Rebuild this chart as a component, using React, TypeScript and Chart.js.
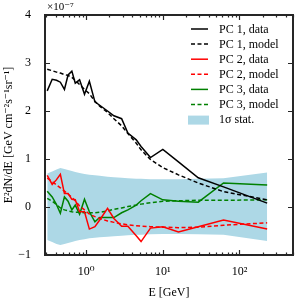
import React, { useEffect, useRef } from "react";
import { Chart, registerables } from "chart.js";

Chart.register(...registerables);

// Energies in GeV
const energy = [0.31, 0.36, 0.41, 0.46, 0.52, 0.58, 0.65, 0.72, 0.82, 0.95, 1.1, 1.3, 1.5, 1.9, 2.3, 2.9, 3.5, 4.5, 5.2, 6.9, 10, 16, 29, 62, 230];

// Values in units of 1e-7 GeV cm^-2 s^-1 sr^-1
const pc1Data = [2.42, 2.66, 2.64, 2.6, 2.45, 2.75, 2.83, 2.58, 2.65, 2.35, 2.62, 2.19, 2.12, 2.0, 1.9, 1.84, 1.54, 1.4, 1.26, 1.03, 1.2, 0.94, 0.61, 0.42, 0.08];
const pc1Model = [2.87, 2.84, 2.81, 2.79, 2.76, 2.74, 2.7, 2.64, 2.55, 2.45, 2.36, 2.2, 2.1, 1.97, 1.84, 1.69, 1.53, 1.33, 1.19, 0.99, 0.82, 0.67, 0.5, 0.32, 0.15];
const pc2Data = [0.66, 0.47, 0.57, 0.68, 0.28, 0.28, 0.16, 0.15, -0.1, -0.1, -0.46, -0.41, -0.27, -0.03, -0.24, -0.4, -0.4, -0.6, -0.72, -0.44, -0.41, -0.52, -0.41, -0.27, -0.46];
const pc2Model = [0.6, 0.53, 0.46, 0.4, 0.33, 0.27, 0.2, 0.13, 0.02, -0.06, -0.15, -0.2, -0.24, -0.29, -0.32, -0.35, -0.37, -0.39, -0.4, -0.41, -0.42, -0.43, -0.42, -0.38, -0.33];
const pc3Data = [0.33, 0.21, 0.05, -0.13, 0.21, 0.12, -0.06, 0.04, -0.15, 0.16, -0.1, -0.31, -0.22, -0.22, -0.22, -0.12, -0.06, 0.04, 0.13, 0.28, 0.15, 0.12, 0.1, 0.5, 0.46];
const pc3Model = [0.18, 0.12, 0.05, -0.02, -0.06, -0.08, -0.1, -0.11, -0.11, -0.12, -0.12, -0.12, -0.11, -0.08, -0.05, -0.02, 0.01, 0.04, 0.06, 0.09, 0.12, 0.13, 0.14, 0.14, 0.15];
const bandUpper = [0.7, 0.74, 0.78, 0.81, 0.79, 0.77, 0.75, 0.73, 0.71, 0.69, 0.67, 0.66, 0.65, 0.63, 0.62, 0.61, 0.6, 0.59, 0.59, 0.58, 0.58, 0.58, 0.59, 0.6, 0.72];
const bandLower = [-0.69, -0.73, -0.77, -0.79, -0.77, -0.75, -0.73, -0.71, -0.69, -0.67, -0.65, -0.64, -0.63, -0.62, -0.61, -0.6, -0.59, -0.58, -0.58, -0.57, -0.56, -0.56, -0.57, -0.58, -0.71];

const yTicks = [-1, 0, 1, 2, 3, 4];
const xMajor = [1, 10, 100];
const supers: Record<string, string> = { "-": "⁻", "0": "⁰", "1": "¹", "2": "²", "3": "³" };

const FONT = "'Liberation Serif', 'DejaVu Serif', serif";

const pts = (vals: number[]) => vals.map((v, i) => ({ x: energy[i], y: v }));

const framePlugin = {
  id: "frame",
  afterDraw(chart: any) {
    const { ctx, chartArea: a, scales } = chart;
    const xs = scales.x;
    const ys = scales.y;
    ctx.save();
    ctx.strokeStyle = "#262626";
    ctx.lineWidth = 1.2;
    // y major ticks (inward, both sides)
    yTicks.forEach((v) => {
      const py = Math.round(ys.getPixelForValue(v)) + 0.5;
      ctx.beginPath();
      ctx.moveTo(a.left, py); ctx.lineTo(a.left + 5, py);
      ctx.moveTo(a.right, py); ctx.lineTo(a.right - 5, py);
      ctx.stroke();
    });
    // x ticks (major + minor), inward, top and bottom
    for (let e = -1; e <= 2; e++) {
      for (let m = 1; m <= 9; m++) {
        const v = m * Math.pow(10, e);
        if (v < xs.min || v > xs.max) continue;
        const px = Math.round(xs.getPixelForValue(v)) + 0.5;
        const len = m === 1 ? 5 : 2.5;
        ctx.beginPath();
        ctx.moveTo(px, a.bottom); ctx.lineTo(px, a.bottom - len);
        ctx.moveTo(px, a.top); ctx.lineTo(px, a.top + len);
        ctx.stroke();
      }
    }
    // frame
    ctx.lineWidth = 2;
    ctx.strokeRect(a.left, a.top, a.right - a.left, a.bottom - a.top);

    // offset label
    ctx.fillStyle = "#000";
    ctx.font = `11px ${FONT}`;
    ctx.textBaseline = "alphabetic";
    ctx.textAlign = "left";
    ctx.fillText("×10⁻⁷", a.left + 2, 10);

    // legend
    const entries = chart.data.datasets.slice(0, 6);
    const hx0 = 191, hx1 = 208, tx = 219;
    let y = 29;
    ctx.font = `12px ${FONT}`;
    ctx.textBaseline = "middle";
    entries.forEach((ds: any) => {
      ctx.save();
      ctx.strokeStyle = ds.borderColor;
      ctx.lineWidth = ds.borderWidth;
      ctx.setLineDash(ds.borderDash || []);
      ctx.beginPath();
      ctx.moveTo(hx0, y); ctx.lineTo(hx1, y);
      ctx.stroke();
      ctx.restore();
      ctx.fillStyle = "#000";
      ctx.fillText(ds.label, tx, y + 0.5);
      y += 15.1;
    });
    const band = chart.data.datasets[6];
    ctx.fillStyle = band.backgroundColor;
    ctx.fillRect(hx0 - 3, y - 4, hx1 - hx0 + 4, 9);
    ctx.fillStyle = "#000";
    ctx.fillText(band.label, tx, y + 0.5);
    ctx.restore();
  },
};

export default function App() {
  const ref = useRef<HTMLCanvasElement | null>(null);
  useEffect(() => {
    if (!ref.current) return;
    const line = (label: string, vals: number[], color: string, dashed: boolean) => ({
      label,
      data: pts(vals),
      borderColor: color,
      backgroundColor: color,
      borderWidth: 1.5,
      borderDash: dashed ? [4, 2.5] : [],
      pointRadius: 0,
      fill: false,
      tension: 0,
    });
    const chart = new Chart(ref.current, {
      type: "line",
      data: {
        datasets: [
          line("PC 1, data", pc1Data, "#000000", false),
          line("PC 1, model", pc1Model, "#000000", true),
          line("PC 2, data", pc2Data, "#ff0000", false),
          line("PC 2, model", pc2Model, "#ff0000", true),
          line("PC 3, data", pc3Data, "#008000", false),
          line("PC 3, model", pc3Model, "#008000", true),
          {
            label: "1σ stat.",
            data: pts(bandUpper),
            borderWidth: 0,
            borderColor: "rgba(0,0,0,0)",
            backgroundColor: "#add8e6",
            pointRadius: 0,
            fill: "+1",
            tension: 0,
          },
          {
            label: "band lower",
            data: pts(bandLower),
            borderWidth: 0,
            borderColor: "rgba(0,0,0,0)",
            backgroundColor: "#add8e6",
            pointRadius: 0,
            fill: false,
            tension: 0,
          },
        ],
      },
      options: {
        animation: false,
        responsive: false,
        layout: { padding: { left: 0, top: 15, right: 7, bottom: 0 } },
        plugins: { legend: { display: false }, tooltip: { enabled: false } },
        scales: {
          x: {
            type: "logarithmic",
            min: 0.29,
            max: 500,
            grid: { display: false },
            border: { display: false },
            afterFit: (s: any) => { s.height = 45; },
            afterBuildTicks: (s: any) => {
              s.ticks = xMajor.map((v) => ({ value: v }));
            },
            ticks: {
              autoSkip: false,
              maxRotation: 0,
              padding: 2,
              color: "#000",
              font: { family: FONT, size: 12 },
              callback: (v: any) => {
                const e = Math.round(Math.log10(Number(v)));
                return "10" + String(e).split("").map((c) => supers[c]).join("");
              },
            },
            title: {
              display: true,
              text: "E [GeV]",
              color: "#000",
              font: { family: FONT, size: 12 },
              padding: { top: 0, bottom: 0 },
            },
          },
          y: {
            type: "linear",
            min: -1,
            max: 4,
            grid: { display: false },
            border: { display: false },
            afterFit: (s: any) => { s.width = 45; },
            afterBuildTicks: (s: any) => {
              s.ticks = yTicks.map((v) => ({ value: v }));
            },
            ticks: {
              padding: 6,
              color: "#000",
              font: { family: FONT, size: 12 },
              callback: (v: any) => (Number(v) < 0 ? "−" + Math.abs(Number(v)) : String(v)),
            },
            title: {
              display: true,
              text: "E²dN/dE [GeV cm⁻²s⁻¹sr⁻¹]",
              color: "#000",
              font: { family: FONT, size: 12 },
              padding: { top: 2, bottom: 0 },
            },
          },
        },
      },
      plugins: [framePlugin],
    } as any);
    return () => chart.destroy();
  }, []);
  return (
    <div style={{ position: "absolute", left: 0, top: 0, width: 300, height: 300, background: "#fff" }}>
      <canvas ref={ref} width={300} height={300} />
    </div>
  );
}
